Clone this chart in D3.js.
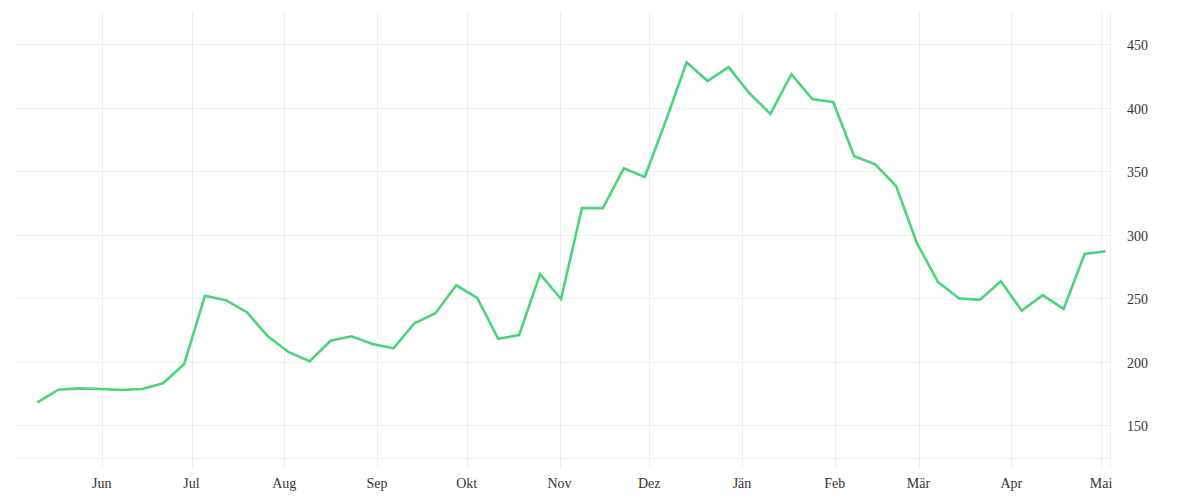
<!DOCTYPE html>
<html><head><meta charset="utf-8">
<script src="https://cdn.jsdelivr.net/npm/d3@7"></script>
<style>
html,body{margin:0;padding:0;background:#fff;}
svg text{font-family:"Liberation Serif","DejaVu Serif",serif;}
</style></head>
<body><svg id="chart" width="1200" height="500"></svg>
<script>
// Weekly points, first week at 2020-05-10 noon
const startDate = "2020-05-10T12:00";
const values = [168,178,179,178.5,177.8,178.5,183,198,
  252,248.5,239,220,207.5,200.5,216.5,220,214,210.6,230.3,238.2,260.2,250.2,218,221,269,249.4,
  321,321,352.4,345.5,389.6,435.8,421,432,411.4,395.2,426.4,406.8,404.4,361.8,355.5,338.4,
  293.2,262.8,250,248.7,263.4,240.2,252.4,241.6,284.9,287];
const monthTicks = ["2020-06-01","2020-07-01","2020-08-01","2020-09-01","2020-10-01","2020-11-01",
  "2020-12-01","2021-01-01","2021-02-01","2021-03-01","2021-04-01","2021-05-01"];
const monthLabels = ["Jun","Jul","Aug","Sep","Okt","Nov","Dez","Jän","Feb","Mär","Apr","Mai"];
const yTicks = [150,200,250,300,350,400,450];
const yDomain = [124.2,475.4];
const xDomain = ["2020-05-03","2021-05-04"];

(function(){
const parse = d3.utcParse("%Y-%m-%d");
const parseT = d3.utcParse("%Y-%m-%dT%H:%M");
const t0 = parseT(startDate);
const data = values.map((v,i)=>({date:d3.utcDay.offset(t0,7*i), value:v}));
const tickDates = monthTicks.map(parse);

const svg = d3.select("#chart");
const pL=15, pR=1110, pT=12, pB=458;

const x = d3.scaleUtc().domain(xDomain.map(parse)).range([pL,pR]);
const y = d3.scaleLinear().domain(yDomain).range([pB,pT]);

const grid = "#eeeeee";
svg.append("g").selectAll("line").data(yTicks).join("line")
  .attr("x1",pL).attr("x2",pR)
  .attr("y1",d=>Math.round(y(d))+0.5).attr("y2",d=>Math.round(y(d))+0.5)
  .attr("stroke",grid).attr("stroke-width",1);
svg.append("g").selectAll("line").data(tickDates).join("line")
  .attr("x1",d=>Math.round(x(d))+0.5).attr("x2",d=>Math.round(x(d))+0.5)
  .attr("y1",pT).attr("y2",pB+10)
  .attr("stroke",grid).attr("stroke-width",1);
svg.append("line").attr("x1",pL).attr("x2",pR).attr("y1",pB+0.5).attr("y2",pB+0.5)
  .attr("stroke",grid);
svg.append("line").attr("x1",pR+0.5).attr("x2",pR+0.5).attr("y1",pT).attr("y2",pB+10)
  .attr("stroke",grid);

svg.append("g").selectAll("text").data(tickDates).join("text")
  .attr("x",d=>x(d)).attr("y",488)
  .attr("text-anchor","middle")
  .attr("font-size",14).attr("fill","#333")
  .text((d,i)=>monthLabels[i]);
svg.append("g").selectAll("text").data(yTicks).join("text")
  .attr("x",1127).attr("y",d=>y(d)+6)
  .attr("font-size",14).attr("fill","#333")
  .text(d=>d);

const line = d3.line().x(d=>x(d.date)).y(d=>y(d.value));
svg.append("path").datum(data)
  .attr("d",line).attr("fill","none")
  .attr("stroke","#4cd47c").attr("stroke-width",2.6)
  .attr("stroke-linejoin","miter");
})();
</script></body></html>
